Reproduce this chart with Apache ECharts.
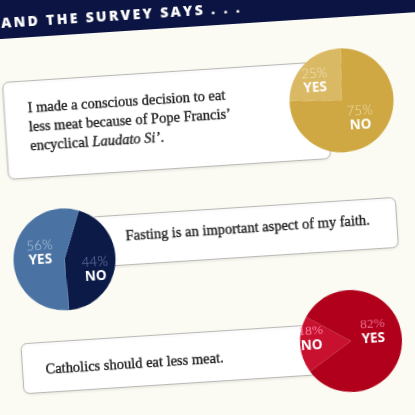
<!DOCTYPE html>
<html>
<head>
<meta charset="utf-8">
<script src="https://cdn.jsdelivr.net/npm/echarts@6/dist/echarts.min.js"></script>
<style>
html,body{margin:0;padding:0;width:415px;height:415px;overflow:hidden;background:#fcfbf3;}
#wrap{position:absolute;left:-32.5px;top:-32.5px;width:480px;height:480px;transform:rotate(-3.7deg);transform-origin:50% 50%;}
</style>
</head>
<body>
<div id="wrap"></div>
<script>
// ---- data ----
const title = 'AND THE SURVEY SAYS . . .';
const questions = [
  'I made a conscious decision to eat\nless meat because of Pope Francis’\nencyclical {i|Laudato Si’}.',
  'Fasting is an important aspect of my faith.',
  'Catholics should eat less meat.'
];
const pie1Names = ['YES', 'NO'];
const pie1Values = [25, 75];
const pie2Names = ['NO', 'YES'];
const pie2Values = [44, 56];
const pie3Names = ['NO', 'YES'];
const pie3Values = [18, 82];

// ---- layout / style ----
const O = 32.5; // container offset
const chart = echarts.init(document.getElementById('wrap'), null, {renderer: 'canvas'});

function spaced(s) { return s.split('').join('\u2009'); }

function pieSeries(center, r, names, values, colors, pctColors, startAngle, clockwise, offsets, pctFont) {
  return {
    type: 'pie',
    center: center,
    radius: [0, r],
    startAngle: startAngle,
    clockwise: clockwise,
    silent: true,
    animation: false,
    z: 5,
    itemStyle: {borderWidth: 0},
    labelLine: {show: false},
    emphasis: {disabled: true},
    data: names.map((n, i) => ({
      name: n,
      value: values[i],
      itemStyle: {color: colors[i]},
      label: {
        show: true,
        position: 'inside',
        offset: offsets[i],
        formatter: p => '{p|' + p.value + '%}\n{b|' + p.name + '}',
        rich: {
          p: {fontSize: 13.5, fontFamily: pctFont.family, fontWeight: pctFont.weight, color: pctColors[i], lineHeight: 14, align: 'center'},
          b: {fontSize: 13.5, fontFamily: 'Open Sans', fontWeight: 'bold', color: '#ffffff', lineHeight: 15, align: 'center'}
        }
      }
    }))
  };
}

const boxStyle = {fill: '#ffffff', stroke: '#b9b9b6', lineWidth: 1, shadowColor: 'rgba(0,0,0,0.08)', shadowBlur: 3, shadowOffsetY: 1};
const FS = 15.5, SX = 0.935;
function qText(text, x, y, extra) {
  return {
    type: 'text', z: 2, x: x, y: y, scaleX: SX,
    style: Object.assign({
      text: text, fontFamily: 'Liberation Serif', fontSize: FS, fill: '#1c1c1c',
      stroke: '#1c1c1c', lineWidth: 0.35, verticalAlign: 'middle'
    }, extra || {})
  };
}

chart.setOption({
  backgroundColor: '#fcfbf3',
  animation: false,
  graphic: [
    {type: 'rect', z: 1, shape: {x: -20, y: -20, width: 520, height: 25.5 + O + 20}, style: {fill: '#0b1442'}},
    {type: 'text', z: 2, x: 13 + O, y: 11 + O, style: {text: spaced(title), fill: '#ffffff', fontFamily: 'Open Sans', fontWeight: 800, fontSize: 14, verticalAlign: 'middle'}},
    {type: 'rect', z: 1, shape: {x: 10.5 + O, y: 69 + O, width: 322.5, height: 97, r: 6}, style: boxStyle},
    qText(questions[0], 34 + O, 115.5 + O, {lineHeight: 19,
      rich: {i: {fontFamily: 'Liberation Serif', fontStyle: 'italic', fontSize: FS, fill: '#1c1c1c', stroke: '#1c1c1c', lineWidth: 0.35, lineHeight: 19}}}),
    {type: 'rect', z: 1, shape: {x: 90 + O, y: 209 + O, width: 305, height: 50, r: 6}, style: boxStyle},
    qText(questions[1], 123.5 + O, 230.5 + O),
    {type: 'rect', z: 1, shape: {x: 12 + O, y: 331 + O, width: 308, height: 50, r: 6}, style: boxStyle},
    qText(questions[2], 35 + O, 358.5 + O)
  ],
  series: [
    pieSeries([347.7 + O, 108.8 + O], 52, pie1Names, pie1Values, ['#dab964', '#cfa843'], ['#f1e4bd', '#efdfae'], 87, false, [[-6, 0], [-2, -3]], {family: 'Lato', weight: 300}),
    pieSeries([61 + O, 249.6 + O], 51, pie2Names, pie2Values, ['#0c1a48', '#4a73a3'], ['#7283b3', '#b3c6de'], 70, true, [[2, 7], [4, -3]], {family: 'Lato', weight: 300}),
    pieSeries([341.6 + O, 349.5 + O], 51, pie3Names, pie3Values, ['#c8102f', '#b1001b'], ['#ff86a3', '#ec7090'], 148, false, [[-11, -5], [-6, -8]], {family: 'Liberation Serif', weight: 'normal'})
  ]
});
</script>
</body>
</html>
